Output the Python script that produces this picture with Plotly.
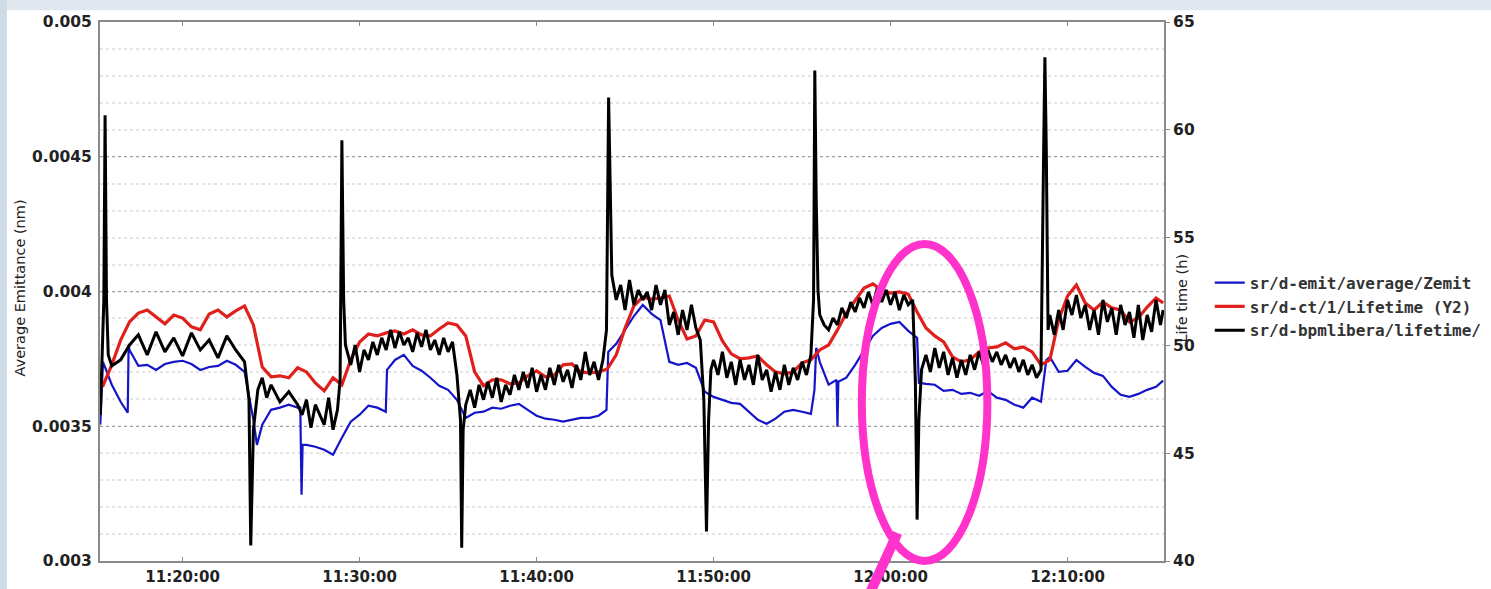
import pandas as pd
import plotly.graph_objects as go

# ---------------- data (time = minutes after 11:00:00) ----------------
blue_t = [15.35, 15.5, 16.0, 16.5, 16.9, 16.95, 17.0, 17.5, 18.0, 18.5, 19.0, 19.5, 20.0, 20.5,
          21.0, 21.5, 22.0, 22.5, 23.0, 23.5, 24.0, 24.2, 24.5, 25.0, 25.5, 26.0, 26.5, 26.65,
          26.72, 26.78, 27.0, 27.5, 28.0, 28.5, 29.0, 29.5, 30.0, 30.5, 31.0, 31.48, 31.55, 32.0,
          32.5, 33.0, 33.5, 34.0, 34.5, 35.0, 35.5, 36.0, 36.5, 37.0, 37.5, 38.0, 38.5, 39.0,
          39.5, 40.0, 40.5, 41.0, 41.5, 42.0, 42.5, 43.0, 43.5, 43.95, 44.05, 44.5, 45.0, 45.5,
          46.0, 46.5, 47.0, 47.5, 48.0, 48.5, 49.0, 49.5, 50.0, 50.5, 51.0, 51.5, 52.0, 52.5,
          53.0, 53.5, 54.0, 54.5, 55.0, 55.5, 55.7, 55.8, 56.0, 56.5, 56.95, 57.0, 57.05, 57.5,
          58.0, 58.5, 59.0, 59.5, 60.0, 60.5, 61.0, 61.5, 61.6, 62.0, 62.5, 63.0, 63.5, 64.0,
          64.5, 65.0, 65.5, 66.0, 66.5, 67.0, 67.5, 68.0, 68.5, 68.8, 69.0, 69.5, 70.0, 70.5,
          71.0, 71.5, 72.0, 72.5, 73.0, 73.5, 74.0, 74.5, 75.0, 75.4]
blue_emit = [0.003506, 0.003739, 0.003654, 0.003591, 0.003550, 0.003802, 0.003783, 0.003724,
             0.003728, 0.003709, 0.003731, 0.003739, 0.003743, 0.003731, 0.003709, 0.003720,
             0.003724, 0.003743, 0.003728, 0.003702, 0.003524, 0.003431, 0.003506, 0.003561,
             0.003569, 0.003580, 0.003569, 0.003569, 0.003246, 0.003431, 0.003431, 0.003424,
             0.003413, 0.003394, 0.003457, 0.003517, 0.003543, 0.003576, 0.003569, 0.003554,
             0.003709, 0.003746, 0.003765, 0.003724, 0.003706, 0.003680, 0.003650, 0.003635,
             0.003598, 0.003531, 0.003550, 0.003554, 0.003569, 0.003565, 0.003576, 0.003583,
             0.003561, 0.003539, 0.003528, 0.003524, 0.003517, 0.003524, 0.003531, 0.003531,
             0.003539, 0.003561, 0.003776, 0.003806, 0.003857, 0.003909, 0.003950, 0.003917,
             0.003894, 0.003739, 0.003728, 0.003735, 0.003717, 0.003628, 0.003609, 0.003598,
             0.003587, 0.003583, 0.003554, 0.003524, 0.003509, 0.003528, 0.003554, 0.003561,
             0.003554, 0.003546, 0.003635, 0.003791, 0.003739, 0.003654, 0.003672, 0.003498,
             0.003665, 0.003680, 0.003728, 0.003783, 0.003835, 0.003865, 0.003880, 0.003887,
             0.003854, 0.003828, 0.003661, 0.003657, 0.003654, 0.003631, 0.003635, 0.003620,
             0.003624, 0.003613, 0.003631, 0.003606, 0.003598, 0.003580, 0.003569, 0.003606,
             0.003591, 0.003746, 0.003757, 0.003702, 0.003706, 0.003746, 0.003720, 0.003698,
             0.003687, 0.003646, 0.003617, 0.003609, 0.003620, 0.003635, 0.003646, 0.003669]

red_t = [15.35, 15.5, 16.0, 16.5, 17.0, 17.5, 18.0, 18.5, 19.0, 19.5, 20.0, 20.5, 21.0, 21.5,
         22.0, 22.5, 23.0, 23.5, 24.0, 24.5, 25.0, 25.5, 26.0, 26.5, 27.0, 27.5, 28.0, 28.5,
         29.0, 29.5, 30.0, 30.5, 31.0, 31.5, 32.0, 32.5, 33.0, 33.5, 34.0, 34.5, 35.0, 35.5,
         36.0, 36.5, 37.0, 37.5, 38.0, 38.5, 39.0, 39.5, 40.0, 40.5, 41.0, 41.5, 42.0, 42.5,
         43.0, 43.5, 44.0, 44.5, 45.0, 45.5, 46.0, 46.5, 47.0, 47.5, 48.0, 48.5, 49.0, 49.5,
         50.0, 50.5, 51.0, 51.5, 52.0, 52.5, 53.0, 53.5, 54.0, 54.5, 55.0, 55.5, 56.0, 56.5,
         57.0, 57.5, 58.0, 58.5, 59.0, 59.5, 60.0, 60.5, 61.0, 61.5, 62.0, 62.5, 63.0, 63.5,
         64.0, 64.5, 65.0, 65.5, 66.0, 66.5, 67.0, 67.5, 68.0, 68.5, 69.0, 69.5, 70.0, 70.5,
         71.0, 71.5, 72.0, 72.5, 73.0, 73.5, 74.0, 74.5, 75.0, 75.4]
red_life = [48.03, 48.13, 49.10, 50.25, 51.09, 51.50, 51.64, 51.32, 51.00, 51.41, 51.27, 50.86,
            50.72, 51.46, 51.64, 51.32, 51.60, 51.83, 50.95, 49.00, 48.54, 48.59, 48.50, 48.96,
            48.77, 48.26, 47.89, 48.50, 48.17, 49.33, 50.16, 50.53, 50.44, 50.58, 50.67, 50.53,
            50.72, 50.49, 50.44, 50.76, 51.04, 50.95, 50.44, 48.77, 48.13, 48.40, 48.40, 48.22,
            48.26, 48.59, 48.82, 48.54, 48.63, 49.10, 49.14, 48.77, 48.73, 48.77, 48.91, 49.56,
            50.81, 51.83, 52.24, 52.15, 52.20, 52.29, 51.18, 50.30, 50.44, 51.18, 51.09, 50.21,
            49.61, 49.38, 49.42, 49.51, 49.10, 48.77, 48.68, 48.77, 49.19, 49.33, 49.79, 50.02,
            50.72, 51.50, 52.11, 52.66, 52.85, 52.57, 52.43, 52.48, 52.38, 51.55, 50.81, 50.44,
            50.16, 49.47, 49.24, 49.33, 49.70, 49.88, 49.93, 50.12, 49.84, 49.93, 49.70, 49.10,
            49.33, 51.18, 52.29, 52.80, 51.97, 51.64, 52.01, 51.74, 51.64, 51.09, 51.27, 51.78,
            52.20, 51.97]

black_t = [15.35, 15.55, 15.62, 15.7, 15.8, 16.0, 16.5, 17.0, 17.5, 18.0, 18.5, 19.0, 19.5, 20.0,
           20.5, 21.0, 21.5, 22.0, 22.5, 23.0, 23.5, 23.75, 23.85, 23.95, 24.0, 24.25, 24.5,
           24.75, 25.0, 25.5, 26.0, 26.5, 26.75, 27.0, 27.25, 27.5, 28.0, 28.25, 28.5, 28.75,
           28.9, 29.0, 29.1, 29.2, 29.5, 29.75, 30.0, 30.25, 30.5, 30.75, 31.0, 31.25, 31.5,
           31.75, 32.0, 32.25, 32.5, 32.75, 33.0, 33.25, 33.5, 33.75, 34.0, 34.25, 34.5, 34.75,
           35.0, 35.25, 35.5, 35.7, 35.77, 35.85, 36.0, 36.25, 36.5, 36.75, 37.0, 37.25, 37.5,
           37.75, 38.0, 38.25, 38.5, 38.75, 39.0, 39.25, 39.5, 39.75, 40.0, 40.25, 40.5, 40.75,
           41.0, 41.25, 41.5, 41.75, 42.0, 42.25, 42.5, 42.75, 43.0, 43.25, 43.5, 43.75, 43.95,
           44.07, 44.15, 44.25, 44.5, 44.75, 45.0, 45.25, 45.5, 45.75, 46.0, 46.25, 46.5, 46.75,
           47.0, 47.25, 47.5, 47.75, 48.0, 48.25, 48.5, 48.75, 49.0, 49.25, 49.45, 49.6, 49.72,
           49.85, 50.0, 50.25, 50.5, 50.75, 51.0, 51.25, 51.5, 51.75, 52.0, 52.25, 52.5, 52.75,
           53.0, 53.25, 53.5, 53.75, 54.0, 54.25, 54.5, 54.75, 55.0, 55.25, 55.5, 55.65, 55.72,
           55.8, 55.9, 56.0, 56.25, 56.5, 56.75, 57.0, 57.25, 57.5, 57.75, 58.0, 58.25, 58.5,
           58.75, 59.0, 59.25, 59.5, 59.75, 60.0, 60.25, 60.5, 60.75, 61.0, 61.25, 61.4, 61.5,
           61.6, 61.75, 62.0, 62.25, 62.5, 62.75, 63.0, 63.25, 63.5, 63.75, 64.0, 64.25, 64.5,
           64.75, 65.0, 65.25, 65.5, 65.75, 66.0, 66.25, 66.5, 66.75, 67.0, 67.25, 67.5, 67.75,
           68.0, 68.25, 68.5, 68.65, 68.72, 68.8, 68.9, 69.0, 69.25, 69.5, 69.75, 70.0, 70.25,
           70.5, 70.75, 71.0, 71.25, 71.5, 71.75, 72.0, 72.25, 72.5, 72.75, 73.0, 73.25, 73.5,
           73.75, 74.0, 74.25, 74.5, 74.75, 75.0, 75.25, 75.4]
black_life = [46.78, 52.11, 60.67, 52.11, 49.56, 49.05, 49.33, 50.02, 50.49, 49.56, 50.63, 49.70,
              50.35, 49.51, 50.58, 49.79, 50.25, 49.42, 50.44, 49.79, 49.24, 47.48, 40.72, 45.63,
              46.09, 47.94, 48.50, 47.57, 48.17, 47.38, 47.85, 47.25, 46.78, 47.48, 46.18, 47.25,
              46.32, 47.57, 46.09, 47.01, 48.40, 59.51, 52.11, 50.02, 49.10, 50.02, 48.77, 49.79,
              49.33, 50.16, 49.56, 50.35, 49.79, 50.72, 49.88, 50.63, 50.02, 50.35, 49.70, 50.58,
              49.93, 50.72, 49.79, 50.25, 49.56, 50.35, 49.70, 50.16, 48.63, 46.55, 40.62, 46.09,
              47.25, 47.94, 47.11, 48.17, 47.48, 48.31, 47.57, 48.50, 47.38, 48.17, 47.71, 48.63,
              47.94, 48.77, 48.03, 48.96, 47.85, 48.63, 47.94, 48.96, 48.17, 49.10, 48.31, 48.87,
              48.03, 49.10, 48.40, 49.70, 48.63, 49.24, 48.40, 49.33, 50.72, 61.50, 56.74, 53.26,
              52.11, 52.80, 51.64, 53.03, 51.88, 52.57, 52.11, 52.48, 51.64, 52.80, 51.88, 52.57,
              50.95, 51.55, 50.49, 51.64, 50.72, 51.88, 50.81, 50.25, 47.48, 41.37, 46.55, 48.87,
              49.33, 48.63, 49.70, 48.50, 49.24, 48.17, 49.33, 48.40, 49.10, 48.17, 49.56, 48.40,
              48.87, 47.85, 48.77, 47.94, 49.10, 48.17, 48.96, 48.40, 49.24, 48.63, 49.56, 52.11,
              62.75, 56.74, 52.57, 51.41, 50.95, 50.72, 51.27, 50.95, 51.74, 51.27, 52.01, 51.55,
              52.20, 51.74, 52.48, 51.88, 52.66, 52.01, 52.57, 51.88, 52.48, 51.64, 52.34, 51.88,
              52.11, 48.40, 41.92, 46.55, 48.87, 49.56, 48.77, 49.88, 48.96, 49.70, 48.63, 49.42,
              48.50, 49.33, 48.63, 49.56, 48.87, 49.70, 49.10, 49.79, 49.24, 49.70, 49.10, 49.56,
              48.96, 49.42, 48.77, 49.33, 48.63, 49.10, 48.50, 48.87, 59.05, 63.36, 59.05, 50.72,
              51.41, 50.49, 51.64, 50.72, 52.11, 51.41, 52.34, 51.27, 51.88, 50.72, 51.64, 50.49,
              52.11, 51.09, 51.74, 50.49, 51.88, 50.95, 51.55, 50.35, 51.88, 50.25, 51.41, 50.63,
              52.11, 50.95, 51.64]

series_names = ["sr/d-emit/average/Zemit", "sr/d-ct/1/Lifetime (Y2)", "sr/d-bpmlibera/lifetime/"]
emit_ticks = [0.003, 0.0035, 0.004, 0.0045, 0.005]
emit_tick_text = ["0.003", "0.0035", "0.004", "0.0045", "0.005"]
life_ticks = [40, 45, 50, 55, 60, 65]
x_start, x_end = 15.333, 75.45

# ---------------- build ----------------
base = pd.Timestamp("2013-01-01 11:00:00")
def tm(v):
    return base + pd.to_timedelta(pd.Series(v, dtype=float), unit="min")

fig = go.Figure()
fig.add_trace(go.Scatter(x=tm(blue_t), y=blue_emit, name=series_names[0], mode="lines",
                         line=dict(color="#1414c8", width=2.2), yaxis="y"))
fig.add_trace(go.Scatter(x=tm(red_t), y=red_life, name=series_names[1], mode="lines",
                         line=dict(color="#e0201c", width=3.2), yaxis="y2"))
fig.add_trace(go.Scatter(x=tm(black_t), y=black_life, name=series_names[2], mode="lines",
                         line=dict(color="#000000", width=3), yaxis="y2"))

tickfont = dict(family="DejaVu Sans", size=15.5, color="#222", weight="bold")
xtickfont = dict(family="DejaVu Sans", size=15, color="#222", weight="bold")
x_range = [base + pd.Timedelta(minutes=x_start), base + pd.Timedelta(minutes=x_end)]

fig.update_layout(
    width=1491, height=589,
    margin=dict(l=100, r=327, t=22, b=28, autoexpand=False),
    paper_bgcolor="white", plot_bgcolor="white",
    showlegend=True,
    legend=dict(x=1.043, y=0.548, xanchor="left", yanchor="top",
                font=dict(family="DejaVu Sans Mono", size=16, color="#333", weight="bold"),
                bgcolor="rgba(0,0,0,0)", tracegroupgap=0, itemwidth=30),
    xaxis=dict(type="date", range=x_range, tickformat="%H:%M:%S", automargin=False,
               tick0=base, dtick=600000, showgrid=False, zeroline=False,
               showline=True, linecolor="#8a8a8a", linewidth=2, mirror="ticks",
               ticks="inside", ticklen=4, tickcolor="#8a8a8a", tickfont=xtickfont,
               ticklabelstandoff=1),
    yaxis=dict(range=[0.003, 0.005], tickvals=emit_ticks, ticktext=emit_tick_text,
               automargin=False,
               showline=True, linecolor="#8a8a8a", linewidth=2, ticks="", zeroline=False,
               showgrid=True, gridcolor="#a0a0a0", griddash="dot", gridwidth=1,
               minor=dict(dtick=0.0001, tick0=0.003, showgrid=True, gridcolor="#e4e4e4", gridwidth=1.5),
               tickfont=tickfont, ticklabelstandoff=3),
    yaxis2=dict(range=[40, 65], tickvals=life_ticks, overlaying="y", side="right",
                automargin=False,
                showline=True, linecolor="#8a8a8a", linewidth=2, showgrid=False, zeroline=False,
                ticks="outside", ticklen=4, tickcolor="#8a8a8a", tickfont=tickfont),
    annotations=[
        dict(text="Average Emittance (nm)", xref="paper", yref="paper", x=-0.075, y=0.506,
             xanchor="center", yanchor="middle",
             textangle=-90, showarrow=False, font=dict(family="DejaVu Sans", size=14.5, color="#222")),
        dict(text="Life time (h)", xref="paper", yref="paper", x=1.016, y=0.487,
             xanchor="center", yanchor="middle",
             textangle=-90, showarrow=False, font=dict(family="DejaVu Sans", size=14.5, color="#222")),
    ],
    shapes=[
        # window chrome of the screenshot
        dict(type="rect", xref="paper", yref="paper", x0=-0.1, x1=1.31, y0=1.022, y1=1.045,
             fillcolor="#e1e7ee", line=dict(width=0), layer="below"),
        dict(type="rect", xref="paper", yref="paper", x0=-0.094, x1=-0.0875, y0=-0.06, y1=1.045,
             fillcolor="#cfdbe7", line=dict(width=0), layer="below"),
        # magenta highlight
        dict(type="circle", xref="paper", yref="paper", x0=0.716, x1=0.834, y0=0.0, y1=0.588,
             line=dict(color="#ff33cc", width=8)),
        dict(type="line", xref="paper", yref="paper", x0=0.7495, y0=0.052, x1=0.7235, y1=-0.06,
             line=dict(color="#ff33cc", width=10)),
    ],
)

fig.write_html("out.html")
